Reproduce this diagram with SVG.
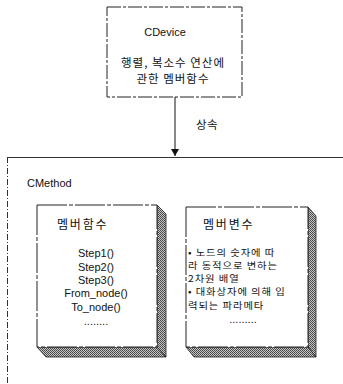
<svg xmlns="http://www.w3.org/2000/svg" width="343" height="384" viewBox="0 0 343 384">
<style>
text{font-family:"Noto Sans CJK KR","Liberation Sans",sans-serif;fill:#111;font-size:11.5px}
.lat{font-family:"Liberation Sans","Noto Sans CJK KR",sans-serif;font-size:11px}
.sm{font-size:9px;letter-spacing:0.8px}
.ttl{font-size:12px;letter-spacing:1.8px}
.box{fill:#fff;stroke:#222;stroke-width:1}
.dash{fill:none;stroke:#333;stroke-width:1;stroke-dasharray:6 2 1 2}
.shade{fill:url(#hatch);stroke:#222;stroke-width:0.8}
</style>
<defs>
<pattern id="hatch" width="2" height="2" patternUnits="userSpaceOnUse">
<rect width="2" height="2" fill="#c4c4c4"/>
<rect width="1" height="1" fill="#444"/>
<rect x="1" y="1" width="1" height="1" fill="#555"/>
</pattern>
<marker id="arr" markerWidth="8" markerHeight="10" refX="7" refY="5" orient="auto" markerUnits="userSpaceOnUse">
<path d="M0,1 L7,5 L0,9 Z" fill="#111"/>
</marker>
</defs>
<g id="cdevice">
<rect class="box" x="107" y="7" width="135" height="90" stroke-dasharray="14 2 3 2"/>
<text class="lat" x="165" y="36" text-anchor="middle" font-size="12">CDevice</text>
<text x="173" y="67" text-anchor="middle" letter-spacing="1">행렬, 복소수 연산에</text>
<text x="173" y="83" text-anchor="middle" letter-spacing="1">관한 멤버함수</text>
</g>
<g id="connectors">
<line x1="175" y1="97" x2="175" y2="156" stroke="#111" stroke-width="1" marker-end="url(#arr)"/>
<text x="196" y="129" letter-spacing="0.5">상속</text>
</g>
<g id="cmethod">
<line x1="7" y1="157.5" x2="343" y2="157.5" stroke="#333" stroke-width="1"/>
<line x1="7.5" y1="157" x2="7.5" y2="384" class="dash"/>
<text class="lat" x="27" y="187" font-size="12">CMethod</text>
</g>
<g id="member-functions">
<polygon class="shade" points="157,205 166,214 166,357 157,347"/>
<polygon class="shade" points="37,347 157,347 166,357 46,357"/>
<rect class="box" x="37" y="205" width="120" height="142" stroke-dasharray="30 2 4 2"/>
<text class="ttl" x="57" y="229">멤버함수</text>
<text class="lat" x="96" y="257" text-anchor="middle">Step1()</text>
<text class="lat" x="96" y="271" text-anchor="middle">Step2()</text>
<text class="lat" x="96" y="284" text-anchor="middle">Step3()</text>
<text class="lat" x="96" y="297" text-anchor="middle">From_node()</text>
<text class="lat" x="96" y="311" text-anchor="middle">To_node()</text>
<text class="lat" x="96" y="325" text-anchor="middle">........</text>
</g>
<g id="member-variables">
<polygon class="shade" points="308,207 316,216 316,357 308,347"/>
<polygon class="shade" points="186,347 308,347 316,357 194,357"/>
<rect class="box" x="186" y="207" width="122" height="140" stroke-dasharray="30 2 4 2"/>
<text class="ttl" x="203" y="229">멤버변수</text>
<text class="sm" transform="translate(188,255.5) scale(1.15,1)">• 노드의 숫자에 따</text>
<text class="sm" transform="translate(188,268.8) scale(1.15,1)">라 동적으로 변하는</text>
<text class="sm" transform="translate(188,282.1) scale(1.15,1)">2차원 배열</text>
<text class="sm" transform="translate(188,295.4) scale(1.15,1)">• 대화상자에 의해 입</text>
<text class="sm" transform="translate(188,308.7) scale(1.15,1)">력되는 파라메타</text>
<text class="lat" x="243" y="323" text-anchor="middle" font-size="10">.........</text>
</g>
</svg>
